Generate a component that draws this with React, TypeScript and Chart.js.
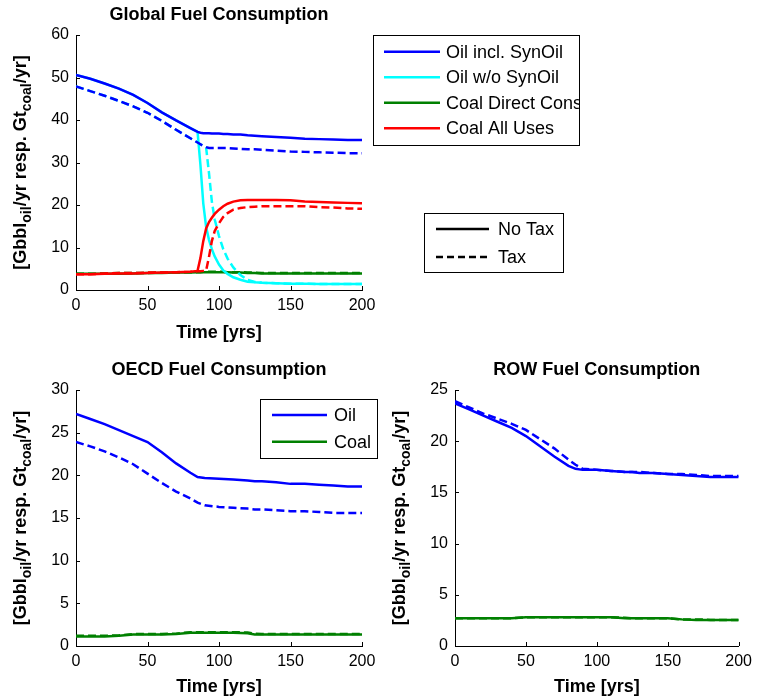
import React, { useEffect, useRef } from 'react';
import { Chart, registerables } from 'chart.js';

Chart.register(...registerables);

const FONT = '"Liberation Sans", Arial, Helvetica, sans-serif';

// ---------- Global fuel consumption ----------
const GLOBAL_YEARS = [0, 10, 20, 30, 40, 50, 60, 70, 80, 85, 87, 89, 91, 93, 95, 97, 100, 103, 106, 110, 115, 120, 125, 130, 140, 150, 160, 170, 180, 190, 200];
const GLOBAL_OIL_SYN_NOTAX = [50.6, 49.7, 48.6, 47.4, 45.9, 44.0, 41.8, 39.9, 38.1, 37.2, 37.0, 36.9, 36.9, 36.9, 36.8, 36.8, 36.8, 36.7, 36.7, 36.6, 36.6, 36.4, 36.3, 36.2, 36.0, 35.8, 35.6, 35.5, 35.4, 35.3, 35.3];
const GLOBAL_OIL_SYN_TAX = [47.9, 46.8, 45.7, 44.5, 43.2, 41.7, 39.8, 37.7, 35.7, 34.7, 34.3, 33.9, 33.6, 33.4, 33.4, 33.4, 33.4, 33.4, 33.4, 33.3, 33.2, 33.1, 33.1, 33.0, 32.8, 32.6, 32.5, 32.4, 32.3, 32.2, 32.2];
const GLOBAL_OIL_NOSYN_NOTAX = [50.6, 49.7, 48.6, 47.4, 45.9, 44.0, 41.8, 39.9, 38.1, 37.2, 29.5, 20.4, 14.8, 11.8, 9.6, 7.9, 6.0, 4.6, 3.8, 3.0, 2.4, 1.95, 1.8, 1.7, 1.6, 1.5, 1.5, 1.4, 1.4, 1.4, 1.4];
const GLOBAL_OIL_NOSYN_TAX = [47.9, 46.8, 45.7, 44.5, 43.2, 41.7, 39.8, 37.7, 35.7, 34.7, 34.3, 33.9, 33.5, 27.5, 20.8, 16.6, 12.7, 9.6, 7.4, 5.3, 3.5, 2.4, 1.9, 1.7, 1.6, 1.5, 1.5, 1.4, 1.4, 1.4, 1.4];
const GLOBAL_COAL_DIRECT_NOTAX = [3.8, 3.8, 3.8, 3.8, 3.9, 4.0, 4.0, 4.1, 4.1, 4.2, 4.2, 4.2, 4.2, 4.2, 4.2, 4.2, 4.2, 4.2, 4.2, 4.1, 4.1, 4.0, 4.0, 3.9, 3.9, 3.9, 3.9, 3.9, 3.9, 3.9, 3.9];
const GLOBAL_COAL_DIRECT_TAX = [3.8, 3.8, 3.9, 4.0, 4.0, 4.0, 4.1, 4.1, 4.2, 4.2, 4.2, 4.3, 4.3, 4.3, 4.3, 4.3, 4.3, 4.3, 4.2, 4.2, 4.2, 4.1, 4.1, 4.0, 4.0, 4.0, 4.0, 4.0, 4.0, 4.0, 4.0];
const GLOBAL_COAL_ALL_NOTAX = [3.7, 3.7, 3.8, 3.9, 3.9, 4.0, 4.1, 4.2, 4.3, 4.5, 7.5, 11.5, 14.5, 16.0, 17.0, 17.9, 18.9, 19.7, 20.3, 20.8, 21.1, 21.2, 21.2, 21.2, 21.2, 21.1, 20.8, 20.7, 20.6, 20.5, 20.4];
const GLOBAL_COAL_ALL_TAX = [3.7, 3.7, 3.9, 4.0, 4.0, 4.1, 4.1, 4.2, 4.3, 4.4, 4.4, 4.5, 4.6, 7.8, 11.5, 13.9, 15.7, 17.2, 18.1, 18.9, 19.3, 19.5, 19.6, 19.7, 19.7, 19.7, 19.7, 19.5, 19.4, 19.2, 19.1];

// ---------- Regional fuel consumption ----------
const REGION_YEARS = [0, 10, 20, 30, 40, 50, 60, 70, 80, 85, 90, 100, 110, 120, 125, 130, 140, 150, 160, 170, 180, 190, 200];
const OECD_OIL_NOTAX = [27.2, 26.6, 26.0, 25.3, 24.6, 23.9, 22.7, 21.4, 20.3, 19.8, 19.7, 19.6, 19.5, 19.4, 19.3, 19.3, 19.2, 19.0, 19.0, 18.9, 18.8, 18.7, 18.7];
const OECD_OIL_TAX = [23.9, 23.4, 22.8, 22.1, 21.3, 20.2, 19.1, 18.1, 17.3, 16.8, 16.5, 16.3, 16.2, 16.1, 16.0, 16.0, 15.9, 15.8, 15.8, 15.7, 15.6, 15.6, 15.6];
const OECD_COAL_NOTAX = [1.1, 1.1, 1.1, 1.2, 1.35, 1.35, 1.35, 1.4, 1.55, 1.55, 1.55, 1.55, 1.55, 1.5, 1.35, 1.35, 1.35, 1.35, 1.35, 1.35, 1.35, 1.35, 1.35];
const OECD_COAL_TAX = [1.2, 1.2, 1.2, 1.25, 1.4, 1.4, 1.4, 1.45, 1.62, 1.62, 1.62, 1.62, 1.62, 1.58, 1.45, 1.42, 1.42, 1.42, 1.42, 1.42, 1.42, 1.42, 1.42];
const ROW_OIL_NOTAX = [23.7, 23.1, 22.5, 21.9, 21.3, 20.5, 19.5, 18.5, 17.6, 17.3, 17.2, 17.2, 17.1, 17.0, 17.0, 16.9, 16.9, 16.8, 16.7, 16.6, 16.5, 16.5, 16.5];
const ROW_OIL_TAX = [23.9, 23.3, 22.7, 22.2, 21.7, 21.1, 20.2, 19.3, 18.2, 17.7, 17.3, 17.2, 17.1, 17.0, 17.0, 17.0, 16.9, 16.8, 16.8, 16.7, 16.6, 16.6, 16.6];
const ROW_COAL_NOTAX = [2.7, 2.7, 2.7, 2.7, 2.7, 2.8, 2.8, 2.8, 2.8, 2.8, 2.8, 2.8, 2.8, 2.7, 2.7, 2.7, 2.7, 2.7, 2.6, 2.55, 2.55, 2.55, 2.55];
const ROW_COAL_TAX = [2.7, 2.7, 2.7, 2.7, 2.7, 2.8, 2.8, 2.8, 2.8, 2.8, 2.8, 2.8, 2.8, 2.75, 2.7, 2.7, 2.7, 2.7, 2.6, 2.6, 2.55, 2.55, 2.55];

// ---------- Ticks and text ----------
const X_TICKS = [0, 50, 100, 150, 200];
const GLOBAL_Y_TICKS = [0, 10, 20, 30, 40, 50, 60];
const OECD_Y_TICKS = [0, 5, 10, 15, 20, 25, 30];
const ROW_Y_TICKS = [0, 5, 10, 15, 20, 25];
const SERIES_NAMES = ['Oil incl. SynOil', 'Oil w/o SynOil', 'Coal Direct Consum.', 'Coal All Uses'];
const SCENARIO_NAMES = ['No Tax', 'Tax'];
const REGION_SERIES = ['Oil', 'Coal'];
const TITLES = ['Global Fuel Consumption', 'OECD Fuel Consumption', 'ROW Fuel Consumption'];
const X_LABEL = 'Time [yrs]';
const Y_LABEL_PARTS: [string, boolean][] = [['[Gbbl', false], ['oil', true], ['/yr resp. Gt', false], ['coal', true], ['/yr]', false]];

const BLUE = '#0000ff';
const CYAN = '#00ffff';
const GREEN = '#008000';
const RED = '#ff0000';
const DASH = [8, 4];

function pts(xs: number[], ys: number[]) {
  return xs.map((x, i) => ({ x, y: ys[i] }));
}

function ds(label: string, xs: number[], ys: number[], color: string, dashed: boolean) {
  return {
    label,
    data: pts(xs, ys),
    borderColor: color,
    backgroundColor: color,
    borderWidth: 2.5,
    borderDash: dashed ? DASH : [],
    pointRadius: 0,
    tension: 0,
    fill: false,
  };
}

type LegendRow = { label: string; color: string; dash: number[]; y: number };
type LegendSpec = { box: [number, number, number, number]; lineX: [number, number]; textX: number; rows: LegendRow[] };
type DecorSpec = { title: string; titleBase: number; xlabBase: number; ylabX: number; legends: LegendSpec[] };

function makeDecor(spec: DecorSpec) {
  return {
    id: 'decor',
    afterDraw(chart: any) {
      const ctx = chart.ctx as CanvasRenderingContext2D;
      const { left, right, top, bottom } = chart.chartArea;
      const xs = chart.scales.x;
      const ys = chart.scales.y;
      ctx.save();
      // inward tick marks
      ctx.strokeStyle = '#000';
      ctx.lineWidth = 1;
      ctx.setLineDash([]);
      ctx.beginPath();
      for (const t of xs.ticks) {
        const px = Math.round(xs.getPixelForValue(t.value)) + 0.5;
        ctx.moveTo(px, bottom);
        ctx.lineTo(px, bottom - 4);
      }
      for (const t of ys.ticks) {
        const py = Math.round(ys.getPixelForValue(t.value)) + 0.5;
        ctx.moveTo(left, py);
        ctx.lineTo(left + 4, py);
      }
      ctx.stroke();

      const cx = (left + right) / 2;
      ctx.fillStyle = '#000';
      ctx.textBaseline = 'alphabetic';
      ctx.textAlign = 'center';
      ctx.font = `bold 18px ${FONT}`;
      ctx.fillText(spec.title, cx, spec.titleBase);
      ctx.fillText(X_LABEL, cx, spec.xlabBase);

      // y label with subscripts
      const mainFont = `bold 18px ${FONT}`;
      const subFont = `bold 14px ${FONT}`;
      let total = 0;
      for (const [txt, sub] of Y_LABEL_PARTS) {
        ctx.font = sub ? subFont : mainFont;
        total += ctx.measureText(txt).width;
      }
      ctx.save();
      ctx.translate(spec.ylabX, (top + bottom) / 2);
      ctx.rotate(-Math.PI / 2);
      ctx.textAlign = 'left';
      let pos = -total / 2;
      for (const [txt, sub] of Y_LABEL_PARTS) {
        ctx.font = sub ? subFont : mainFont;
        ctx.fillText(txt, pos, sub ? 5 : 0);
        pos += ctx.measureText(txt).width;
      }
      ctx.restore();

      // legends
      for (const lg of spec.legends) {
        const [x1, y1, x2, y2] = lg.box;
        ctx.fillStyle = '#fff';
        ctx.fillRect(x1, y1, x2 - x1, y2 - y1);
        ctx.save();
        ctx.beginPath();
        ctx.rect(x1 + 1, y1 + 1, x2 - x1 - 1, y2 - y1 - 1);
        ctx.clip();
        for (const r of lg.rows) {
          ctx.strokeStyle = r.color;
          ctx.lineWidth = 2.5;
          ctx.setLineDash(r.dash);
          ctx.beginPath();
          ctx.moveTo(lg.lineX[0], r.y);
          ctx.lineTo(lg.lineX[1], r.y);
          ctx.stroke();
          ctx.setLineDash([]);
          ctx.fillStyle = '#000';
          ctx.font = `18px ${FONT}`;
          ctx.textAlign = 'left';
          ctx.textBaseline = 'middle';
          ctx.fillText(r.label, lg.textX, r.y + 1);
        }
        ctx.restore();
        ctx.strokeStyle = '#000';
        ctx.lineWidth = 1;
        ctx.setLineDash([]);
        ctx.strokeRect(x1 + 0.5, y1 + 0.5, x2 - x1, y2 - y1);
      }
      ctx.restore();
    },
  };
}

type Geom = { yWidth: number; xHeight: number; padTop: number; padRight: number };

function makeConfig(datasets: any[], yTicks: number[], geom: Geom, decor: DecorSpec) {
  return {
    type: 'line',
    data: { datasets },
    options: {
      animation: false,
      responsive: false,
      maintainAspectRatio: false,
      layout: { padding: { left: 0, top: geom.padTop, right: geom.padRight, bottom: 0 } },
      plugins: { legend: { display: false }, tooltip: { enabled: false }, title: { display: false } },
      scales: {
        x: {
          type: 'linear',
          min: X_TICKS[0],
          max: X_TICKS[X_TICKS.length - 1],
          afterBuildTicks: (s: any) => { s.ticks = X_TICKS.map((v) => ({ value: v })); },
          afterFit: (s: any) => { s.height = geom.xHeight; },
          grid: { display: false, drawTicks: false },
          border: { display: true, color: '#000', width: 1 },
          ticks: { font: { family: FONT, size: 16 }, color: '#000', padding: 6, maxRotation: 0, autoSkip: false },
        },
        y: {
          type: 'linear',
          min: yTicks[0],
          max: yTicks[yTicks.length - 1],
          afterBuildTicks: (s: any) => { s.ticks = yTicks.map((v) => ({ value: v })); },
          afterFit: (s: any) => { s.width = geom.yWidth; },
          grid: { display: false, drawTicks: false },
          border: { display: true, color: '#000', width: 1 },
          ticks: { font: { family: FONT, size: 16 }, color: '#000', padding: 7, autoSkip: false },
        },
      },
    },
    plugins: [makeDecor(decor)],
  };
}

function ChartCanvas({ left, top, width, height, config }: { left: number; top: number; width: number; height: number; config: () => any }) {
  const ref = useRef<HTMLCanvasElement | null>(null);
  useEffect(() => {
    if (!ref.current) return;
    const chart = new Chart(ref.current, config());
    return () => chart.destroy();
  }, []);
  return (
    <canvas
      ref={ref}
      width={width}
      height={height}
      style={{ position: 'absolute', left, top, width, height, display: 'block' }}
    />
  );
}

function globalConfig() {
  const datasets = [
    ds(SERIES_NAMES[3] + ' ' + SCENARIO_NAMES[0], GLOBAL_YEARS, GLOBAL_COAL_ALL_NOTAX, RED, false),
    ds(SERIES_NAMES[3] + ' ' + SCENARIO_NAMES[1], GLOBAL_YEARS, GLOBAL_COAL_ALL_TAX, RED, true),
    ds(SERIES_NAMES[0] + ' ' + SCENARIO_NAMES[0], GLOBAL_YEARS, GLOBAL_OIL_SYN_NOTAX, BLUE, false),
    ds(SERIES_NAMES[0] + ' ' + SCENARIO_NAMES[1], GLOBAL_YEARS, GLOBAL_OIL_SYN_TAX, BLUE, true),
    ds(SERIES_NAMES[1] + ' ' + SCENARIO_NAMES[0], GLOBAL_YEARS, GLOBAL_OIL_NOSYN_NOTAX, CYAN, false),
    ds(SERIES_NAMES[1] + ' ' + SCENARIO_NAMES[1], GLOBAL_YEARS, GLOBAL_OIL_NOSYN_TAX, CYAN, true),
    ds(SERIES_NAMES[2] + ' ' + SCENARIO_NAMES[0], GLOBAL_YEARS, GLOBAL_COAL_DIRECT_NOTAX, GREEN, false),
    ds(SERIES_NAMES[2] + ' ' + SCENARIO_NAMES[1], GLOBAL_YEARS, GLOBAL_COAL_DIRECT_TAX, GREEN, true),
  ];
  const colors = [BLUE, CYAN, GREEN, RED];
  const rowsY = [51.7, 77.2, 102.7, 128.2];
  return makeConfig(datasets, GLOBAL_Y_TICKS, { yWidth: 76, xHeight: 55, padTop: 35, padRight: 396 }, {
    title: TITLES[0],
    titleBase: 20,
    xlabBase: 338,
    ylabX: 26,
    legends: [
      {
        box: [373, 35, 579, 145],
        lineX: [384, 440],
        textX: 446,
        rows: SERIES_NAMES.map((n, i) => ({ label: n, color: colors[i], dash: [], y: rowsY[i] })),
      },
      {
        box: [424, 213, 563, 272],
        lineX: [436, 489],
        textX: 498,
        rows: SCENARIO_NAMES.map((n, i) => ({ label: n, color: '#000', dash: i === 1 ? [7, 4] : [], y: [229, 257][i] })),
      },
    ],
  });
}

function oecdConfig() {
  const datasets = [
    ds(REGION_SERIES[0] + ' ' + SCENARIO_NAMES[0], REGION_YEARS, OECD_OIL_NOTAX, BLUE, false),
    ds(REGION_SERIES[0] + ' ' + SCENARIO_NAMES[1], REGION_YEARS, OECD_OIL_TAX, BLUE, true),
    ds(REGION_SERIES[1] + ' ' + SCENARIO_NAMES[0], REGION_YEARS, OECD_COAL_NOTAX, GREEN, false),
    ds(REGION_SERIES[1] + ' ' + SCENARIO_NAMES[1], REGION_YEARS, OECD_COAL_TAX, GREEN, true),
  ];
  return makeConfig(datasets, OECD_Y_TICKS, { yWidth: 76, xHeight: 51, padTop: 45, padRight: 26 }, {
    title: TITLES[1],
    titleBase: 30,
    xlabBase: 347,
    ylabX: 26,
    legends: [
      {
        box: [260, 54, 377, 113],
        lineX: [272, 327],
        textX: 334,
        rows: REGION_SERIES.map((n, i) => ({ label: n, color: [BLUE, GREEN][i], dash: [], y: [70, 96.7][i] })),
      },
    ],
  });
}

function rowConfig() {
  const datasets = [
    ds(REGION_SERIES[0] + ' ' + SCENARIO_NAMES[0], REGION_YEARS, ROW_OIL_NOTAX, BLUE, false),
    ds(REGION_SERIES[0] + ' ' + SCENARIO_NAMES[1], REGION_YEARS, ROW_OIL_TAX, BLUE, true),
    ds(REGION_SERIES[1] + ' ' + SCENARIO_NAMES[0], REGION_YEARS, ROW_COAL_NOTAX, GREEN, false),
    ds(REGION_SERIES[1] + ' ' + SCENARIO_NAMES[1], REGION_YEARS, ROW_COAL_TAX, GREEN, true),
  ];
  return makeConfig(datasets, ROW_Y_TICKS, { yWidth: 67, xHeight: 51, padTop: 45, padRight: 16 }, {
    title: TITLES[2],
    titleBase: 30,
    xlabBase: 347,
    ylabX: 17,
    legends: [],
  });
}

export default function App() {
  return (
    <div style={{ position: 'fixed', left: 0, top: 0, width: 758, height: 697, background: '#fff', overflow: 'hidden' }}>
      <ChartCanvas left={0} top={0} width={758} height={345} config={globalConfig} />
      <ChartCanvas left={0} top={345} width={388} height={352} config={oecdConfig} />
      <ChartCanvas left={388} top={345} width={370} height={352} config={rowConfig} />
    </div>
  );
}
